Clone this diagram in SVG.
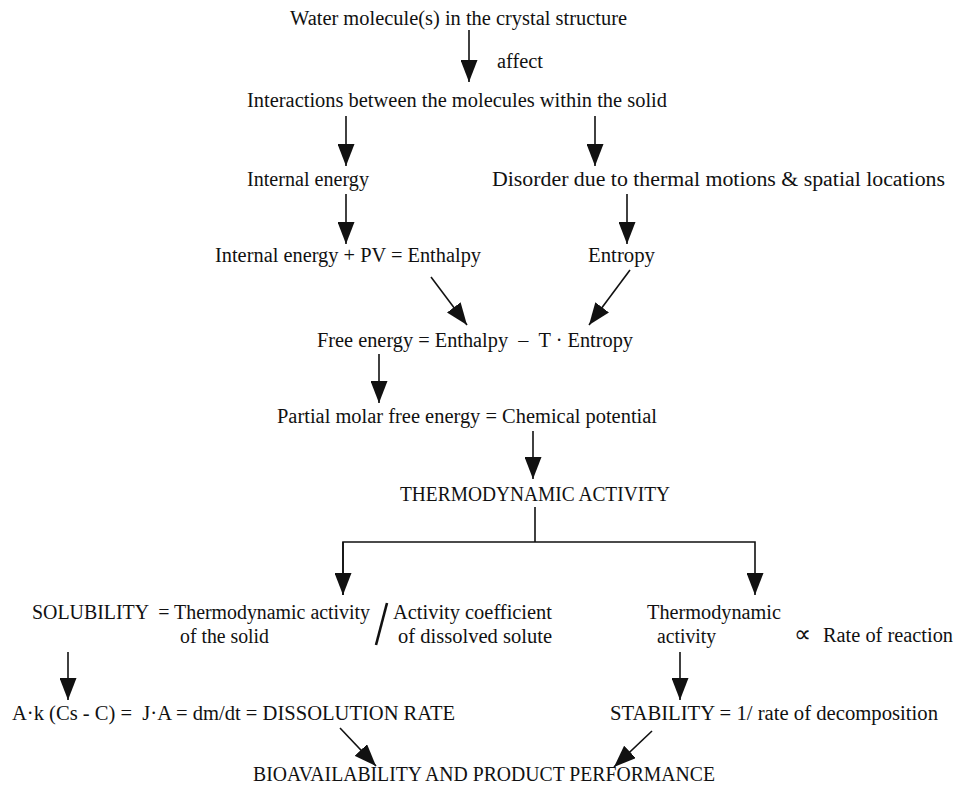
<svg xmlns="http://www.w3.org/2000/svg" width="956" height="788" viewBox="0 0 956 788">
<style>
text{font-family:"Liberation Serif","Times New Roman",serif;font-size:20px;fill:#111}
.c{stroke:#111;stroke-width:1.6;fill:none}
</style>
<defs>
<marker id="ah" viewBox="0 0 22 17" refX="22" refY="8.5" markerWidth="22" markerHeight="17" markerUnits="userSpaceOnUse" orient="auto">
<path d="M0,0 L22,8.5 L0,17 z" fill="#111"/>
</marker>
</defs>
<rect width="956" height="788" fill="#fff"/>
<g id="connectors">
<line class="c" x1="469" y1="30" x2="469" y2="82" marker-end="url(#ah)"/>
<line class="c" x1="346" y1="116" x2="346" y2="166" marker-end="url(#ah)"/>
<line class="c" x1="595" y1="116" x2="595" y2="166" marker-end="url(#ah)"/>
<line class="c" x1="346" y1="194" x2="346" y2="244" marker-end="url(#ah)"/>
<line class="c" x1="627" y1="194" x2="627" y2="244" marker-end="url(#ah)"/>
<line class="c" x1="431" y1="277" x2="467" y2="325" marker-end="url(#ah)"/>
<line class="c" x1="630" y1="270" x2="589" y2="325" marker-end="url(#ah)"/>
<line class="c" x1="379" y1="354" x2="379" y2="403" marker-end="url(#ah)"/>
<line class="c" x1="533" y1="431" x2="533" y2="479" marker-end="url(#ah)"/>
<line class="c" x1="535" y1="507" x2="535" y2="542"/>
<polyline class="c" points="343,595 343,542 755,542 755,595" marker-end="url(#ah)"/>
<line class="c" x1="343" y1="542" x2="343" y2="595" marker-end="url(#ah)"/>
<line class="c" x1="68" y1="652" x2="68" y2="700" marker-end="url(#ah)"/>
<line class="c" x1="680" y1="652" x2="680" y2="700" marker-end="url(#ah)"/>
<line class="c" x1="340" y1="728" x2="376" y2="766" marker-end="url(#ah)"/>
<line class="c" x1="652" y1="731" x2="614" y2="767" marker-end="url(#ah)"/>
</g>
<g id="n-water"><text x="290" y="25" textLength="337" lengthAdjust="spacingAndGlyphs">Water molecule(s) in the crystal structure</text></g>
<g id="l-affect"><text x="497" y="68" textLength="46" lengthAdjust="spacingAndGlyphs">affect</text></g>
<g id="n-interactions"><text x="247" y="107" textLength="420" lengthAdjust="spacingAndGlyphs">Interactions between the molecules within the solid</text></g>
<g id="n-internal"><text x="247" y="186" textLength="122" lengthAdjust="spacingAndGlyphs">Internal energy</text></g>
<g id="n-disorder"><text x="492" y="186" textLength="453" lengthAdjust="spacingAndGlyphs">Disorder due to thermal motions &amp; spatial locations</text></g>
<g id="n-enthalpy"><text x="215" y="262" textLength="266" lengthAdjust="spacingAndGlyphs">Internal energy + PV = Enthalpy</text></g>
<g id="n-entropy"><text x="588" y="262" textLength="67" lengthAdjust="spacingAndGlyphs">Entropy</text></g>
<g id="n-free"><text x="317" y="347" textLength="316" lengthAdjust="spacingAndGlyphs">Free energy = Enthalpy &#160;– &#160;T · Entropy</text></g>
<g id="n-partial"><text x="277" y="423" textLength="380" lengthAdjust="spacingAndGlyphs">Partial molar free energy = Chemical potential</text></g>
<g id="n-activity"><text x="400" y="501" textLength="270" lengthAdjust="spacingAndGlyphs">THERMODYNAMIC ACTIVITY</text></g>
<g id="n-solubility">
<text x="32" y="619" textLength="338" lengthAdjust="spacingAndGlyphs">SOLUBILITY &#160;= Thermodynamic activity</text>
<text x="180" y="643" textLength="89" lengthAdjust="spacingAndGlyphs">of the solid</text>
<line x1="387" y1="603" x2="376" y2="645" stroke="#111" stroke-width="2.6"/>
<text x="393" y="619" textLength="159" lengthAdjust="spacingAndGlyphs">Activity coefficient</text>
<text x="398" y="643" textLength="154" lengthAdjust="spacingAndGlyphs">of dissolved solute</text>
</g>
<g id="n-rate">
<text x="647" y="619" textLength="134" lengthAdjust="spacingAndGlyphs">Thermodynamic</text>
<text x="657" y="643" textLength="59" lengthAdjust="spacingAndGlyphs">activity</text>
<text x="794" y="642" style="font-size:24px">∝</text>
<text x="823" y="642" textLength="130" lengthAdjust="spacingAndGlyphs">Rate of reaction</text>
</g>
<g id="n-dissolution"><text x="12" y="720" textLength="443" lengthAdjust="spacingAndGlyphs">A·k (Cs - C) = &#160;J·A = dm/dt = DISSOLUTION RATE</text></g>
<g id="n-stability"><text x="610" y="720" textLength="328" lengthAdjust="spacingAndGlyphs">STABILITY = 1/ rate of decomposition</text></g>
<g id="n-bio"><text x="253" y="781" textLength="462" lengthAdjust="spacingAndGlyphs">BIOAVAILABILITY AND PRODUCT PERFORMANCE</text></g>
</svg>
